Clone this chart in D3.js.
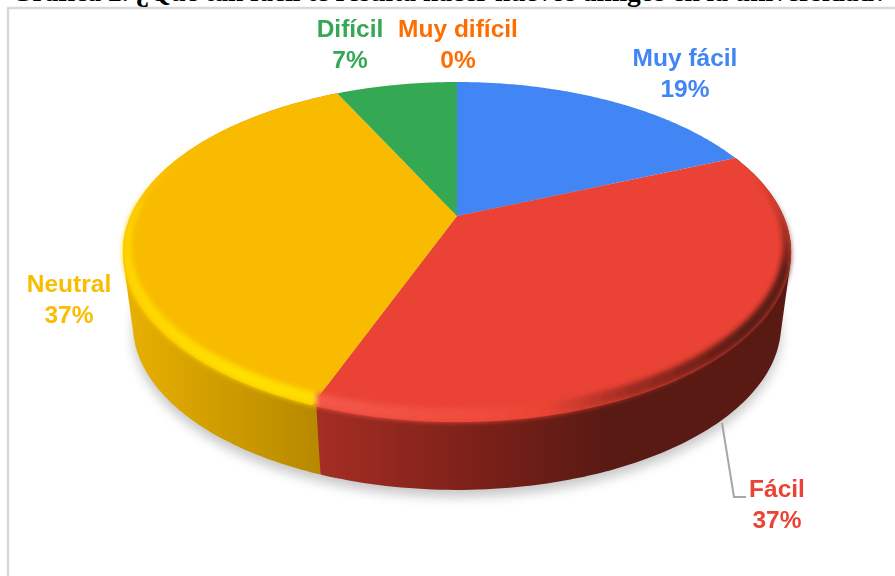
<!DOCTYPE html>
<html>
<head>
<meta charset="utf-8">
<script src="https://cdn.jsdelivr.net/npm/d3@7"></script>
<style>
  html, body { margin: 0; padding: 0; background: #fff; overflow: hidden; }
  svg { display: block; }
</style>
</head>
<body>
<svg id="chart" width="895" height="576"></svg>
<script>
const title = 'Gráfica 2. ¿Qué tan fácil te resulta hacer nuevos amigos en la universidad?';
const categories = ['Muy fácil', 'Fácil', 'Neutral', 'Difícil', 'Muy difícil'];
const values = [18.7, 37.1, 37.0, 7.2, 0];
const colors = ['#4285f4', '#ea4335', '#f9bb00', '#34a853', '#ff6d01'];
const labelColors = ['#4285f4', '#ea4335', '#fbbc04', '#34a853', '#ff6d01'];

// where each label sits, same order as categories
const labelX = [685, 777, 69, 350, 458];
const labelY = [66, 497, 292, 37, 37];

const svg = d3.select('#chart');
const defs = svg.append('defs');

// perspective of the disc
const cx = 457, cy = 216;
const radius = 326.5, tilt = 162.4, k = 0.212;
const depthY = 74, bottomScale = 0.97;
const seamShift = 0.012; // seam on the edge runs straight down, not radially

const pie = d3.pie().sort(null).value((d) => d)(values);

const project = (a) => {
  const X = Math.sin(a), Y = -Math.cos(a), w = 1 - k * Y;
  return [cx + radius * X / w, cy + tilt * Y / w];
};
const bottomRim = (a) => {
  const p = project(a);
  return [cx + (p[0] - cx) * bottomScale, cy + depthY + (p[1] - cy) * bottomScale];
};
const innerRim = (a) => {
  const p = project(a);
  return [cx + (p[0] - cx) * 0.975, 82 + (p[1] - 82) * 0.96];
};
const arcPoints = (fn, a0, a1) => d3.range(0, 121).map((i) => fn(a0 + (a1 - a0) * i / 120));
const line = d3.line();

// filters
const blur = (id, sd) => defs.append('filter').attr('id', id)
  .attr('x', '-10%').attr('y', '-10%').attr('width', '120%').attr('height', '120%')
  .append('feGaussianBlur').attr('stdDeviation', sd);
blur('shadowBlur', 6);
blur('rimBlur', 2.8);
blur('textBlur', 0.35);

const gradient = (id, x1, y1, x2, y2, stops) => {
  const g = defs.append('linearGradient').attr('id', id)
    .attr('gradientUnits', 'userSpaceOnUse')
    .attr('x1', x1).attr('y1', y1).attr('x2', x2).attr('y2', y2);
  stops.forEach((s) => g.append('stop')
    .attr('offset', s[0]).attr('stop-color', s[1]).attr('stop-opacity', s[2] === undefined ? 1 : s[2]));
};
gradient('sideRed', 318, 0, 600, 0, [[0, '#a52d24'], [0.55, '#7c2119'], [1, '#5a1a14']]);
gradient('sideYellow', 125, 0, 322, 0, [[0, '#e8b000'], [1, '#b68800']]);
gradient('rimRed', 310, 0, 780, 0, [[0, '#f4574a'], [0.35, '#f04c3e'], [0.5, '#ea4335'],
  [0.68, '#a02c22'], [0.92, '#5a1a14'], [1, '#5a1a14']]);
gradient('rimRedBack', 0, 175, 0, 275, [[0, '#5a1a14', 0], [1, '#5a1a14', 1]]);
gradient('rimYellow', 0, 120, 0, 260, [[0, '#ffd500', 0], [1, '#ffd500', 1]]);
gradient('rimYellowFront', 125, 0, 322, 0, [[0, '#ffd500'], [0.6, '#ffe000'], [1, '#ffdc00']]);

// card border and the cut off caption above it
svg.append('path')
  .attr('d', 'M8,576V8H895')
  .attr('fill', 'none')
  .attr('stroke', '#d9d9d9')
  .attr('stroke-width', 2.5);

svg.append('text')
  .attr('x', 11)
  .attr('y', 1)
  .attr('font-family', '"Liberation Serif", serif')
  .attr('font-weight', 'bold')
  .attr('font-size', 27.5)
  .attr('fill', '#000')
  .text(title);

// shadow under the disc
svg.append('path')
  .attr('d', line(d3.polygonHull(arcPoints(bottomRim, 0, 2 * Math.PI))) + 'Z')
  .attr('transform', 'translate(0, 7)')
  .attr('fill', '#000')
  .attr('opacity', 0.22)
  .attr('filter', 'url(#shadowBlur)');

// edge of the disc, hull so the outline runs straight between top and bottom rim
const sideOf = (d) => {
  const a0 = d.startAngle - (d.index === 2 ? seamShift : 0);
  const a1 = d.endAngle - (d.index === 1 ? seamShift : 0);
  return d3.polygonHull(arcPoints(project, a0, a1).concat(arcPoints(bottomRim, a0, a1)));
};
svg.append('path')
  .attr('d', line(sideOf(pie[2])) + 'Z')
  .attr('fill', 'url(#sideYellow)');
svg.append('path')
  .attr('d', line(sideOf(pie[1])) + 'Z')
  .attr('fill', 'url(#sideRed)');

// flat top
const apex = [cx, cy];
svg.append('g').selectAll('path')
  .data(pie.filter((d) => d.value > 0))
  .enter().append('path')
  .attr('d', (d) => line([apex].concat(arcPoints(project, d.startAngle, d.endAngle))) + 'Z')
  .attr('fill', (d) => colors[d.index]);

// soft bevel round the rim, red and yellow only
const ring = (a0, a1, b0, b1) => line(arcPoints(project, b0, b1).concat(arcPoints(innerRim, a1, a0))) + 'Z';
const rimLayer = svg.append('g').attr('filter', 'url(#rimBlur)');
const red = pie[1], yellow = pie[2];
const redMid = red.startAngle + (red.endAngle - red.startAngle) * 0.3;
rimLayer.append('path')
  .attr('d', ring(redMid, red.endAngle, redMid, red.endAngle - seamShift))
  .attr('fill', 'url(#rimRed)');
rimLayer.append('path')
  .attr('d', ring(red.startAngle, redMid, red.startAngle, redMid))
  .attr('fill', 'url(#rimRedBack)');
const yellowMid = yellow.startAngle + (yellow.endAngle - yellow.startAngle) * 0.55;
rimLayer.append('path')
  .attr('d', ring(yellow.startAngle, yellowMid, yellow.startAngle - seamShift, yellowMid))
  .attr('fill', 'url(#rimYellowFront)');
rimLayer.append('path')
  .attr('d', ring(yellowMid, yellow.endAngle, yellowMid, yellow.endAngle))
  .attr('fill', 'url(#rimYellow)');

// leader line for Fácil
svg.append('path')
  .attr('d', 'M722,423L734,497H746')
  .attr('fill', 'none')
  .attr('stroke', '#a6a6a6')
  .attr('stroke-width', 2);

// labels
const labels = svg.append('g')
  .attr('font-family', '"Liberation Sans", Arial, sans-serif')
  .attr('font-weight', 'bold')
  .attr('font-size', 24.5)
  .attr('text-anchor', 'middle')
  .attr('filter', 'url(#textBlur)');

categories.forEach((name, i) => {
  labels.append('text')
    .attr('x', labelX[i]).attr('y', labelY[i])
    .attr('fill', labelColors[i])
    .text(name);
  labels.append('text')
    .attr('x', labelX[i]).attr('y', labelY[i] + 31)
    .attr('fill', labelColors[i])
    .text(Math.round(values[i]) + '%');
});
</script>
</body>
</html>
